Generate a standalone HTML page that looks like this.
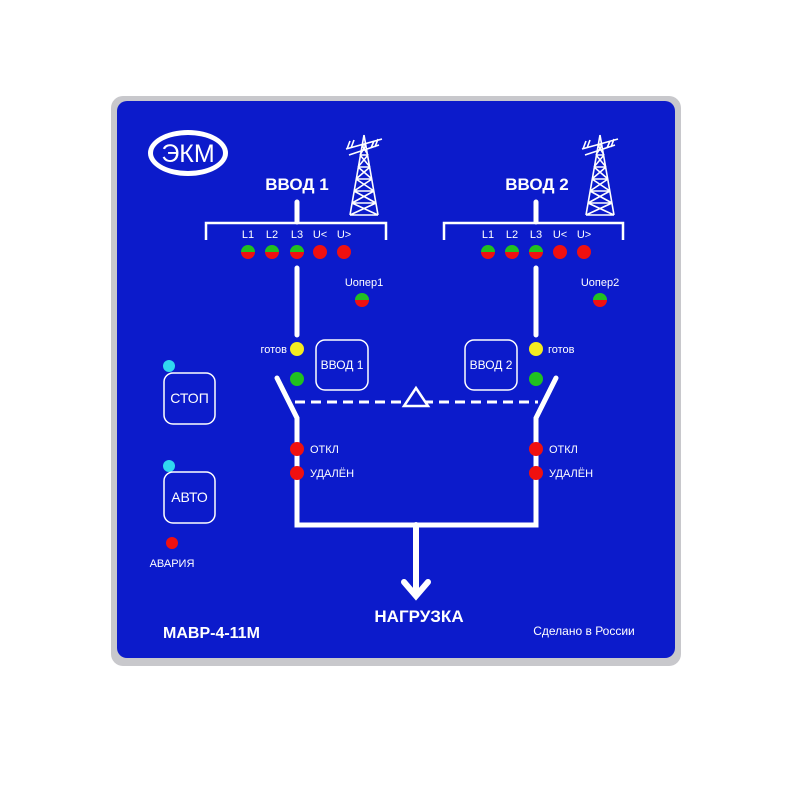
<!DOCTYPE html>
<html><head><meta charset="utf-8"><style>
html,body{margin:0;padding:0;background:#fff;width:800px;height:800px;overflow:hidden}
svg{display:block}
text{font-family:"Liberation Sans",sans-serif;fill:#fff}
</style></head><body>
<svg width="800" height="800" viewBox="0 0 800 800">
<defs>
<linearGradient id="bi" x1="0" y1="0" x2="0" y2="1">
<stop offset="0" stop-color="#22c020"/><stop offset="0.5" stop-color="#22c020"/><stop offset="0.5" stop-color="#f01010"/><stop offset="1" stop-color="#f01010"/>
</linearGradient>
<g id="tower" stroke="#fff" stroke-width="1.6" fill="none">
<path d="M0,0 L-14,80 M0,0 L14,80 M-2,10 L2,10 M-4,20 L4,20 M-6,32 L6,32 M-8,44 L8,44 M-10,56 L10,56 M-12,68 L12,68 M-14,80 L14,80 M-2,10 L4,20 M2,10 L-4,20 M-4,20 L6,32 M4,20 L-6,32 M-6,32 L8,44 M6,32 L-8,44 M-8,44 L10,56 M8,44 L-10,56 M-10,56 L12,68 M10,56 L-12,68 M-12,68 L14,80 M12,68 L-14,80"/>
<path d="M-18,14 L18,4 M-15,20 L15,10 M-14,6 L-17,14 M-10,5 L-13,13 M10,6 L7,13 M14,4 L11,12"/>
</g>
</defs>
<rect x="111" y="96" width="570" height="570" rx="12" fill="#c8c8cc"/>
<rect x="117" y="101" width="558" height="557" rx="10" fill="#0c1bcb"/>
<!-- logo -->
<ellipse cx="188" cy="153" rx="40" ry="23" fill="#fff"/>
<ellipse cx="188" cy="153" rx="35" ry="18" fill="#0c1bcb"/>
<text x="188" y="162" font-size="25" text-anchor="middle">ЭКМ</text>
<use href="#tower" x="364" y="135"/>
<use href="#tower" x="600" y="135"/>
<text x="297" y="190" font-size="17" font-weight="bold" text-anchor="middle">ВВОД 1</text>
<text x="537" y="190" font-size="17" font-weight="bold" text-anchor="middle">ВВОД 2</text>
<g stroke="#fff" fill="none" stroke-linecap="round">
<path d="M297,202 V222 M536,202 V222" stroke-width="5"/>
<path d="M206,240 V223 H386 V240 M444,240 V223 H623 V240" stroke-width="2.5" stroke-linecap="butt"/>
<path d="M297,268 V335 M536,268 V335" stroke-width="5"/>
<path d="M277,378 L297,418 V525 H536 V418 L556,378" stroke-width="5" stroke-linejoin="miter"/>
<path d="M416,525 V595 M404,582 L416,596 L428,582" stroke-width="6"/>
<path d="M295,402 H538" stroke-width="3" stroke-dasharray="10,6" stroke-linecap="butt"/>
</g>
<polygon points="416,388 404,406 428,406" fill="#0c1bcb" stroke="#fff" stroke-width="2.5"/>
<g font-size="11" text-anchor="middle">
<text x="248" y="238">L1</text><text x="272" y="238">L2</text><text x="297" y="238">L3</text><text x="320" y="238">U&lt;</text><text x="344" y="238">U&gt;</text>
<text x="488" y="238">L1</text><text x="512" y="238">L2</text><text x="536" y="238">L3</text><text x="560" y="238">U&lt;</text><text x="584" y="238">U&gt;</text>
<text x="364" y="286">Uопер1</text><text x="600" y="286">Uопер2</text>
</g>
<g>
<circle cx="248" cy="252" r="7" fill="url(#bi)"/><circle cx="272" cy="252" r="7" fill="url(#bi)"/><circle cx="297" cy="252" r="7" fill="url(#bi)"/>
<circle cx="320" cy="252" r="7" fill="#f01010"/><circle cx="344" cy="252" r="7" fill="#f01010"/>
<circle cx="488" cy="252" r="7" fill="url(#bi)"/><circle cx="512" cy="252" r="7" fill="url(#bi)"/><circle cx="536" cy="252" r="7" fill="url(#bi)"/>
<circle cx="560" cy="252" r="7" fill="#f01010"/><circle cx="584" cy="252" r="7" fill="#f01010"/>
<circle cx="362" cy="300" r="7" fill="url(#bi)"/><circle cx="600" cy="300" r="7" fill="url(#bi)"/>
<circle cx="297" cy="349" r="7" fill="#f4ec20"/><circle cx="536" cy="349" r="7" fill="#f4ec20"/>
<circle cx="297" cy="379" r="7" fill="#20c020"/><circle cx="536" cy="379" r="7" fill="#20c020"/>
<circle cx="297" cy="449" r="7" fill="#f01010"/><circle cx="297" cy="473" r="7" fill="#f01010"/>
<circle cx="536" cy="449" r="7" fill="#f01010"/><circle cx="536" cy="473" r="7" fill="#f01010"/>
<circle cx="172" cy="543" r="6" fill="#f01010"/>
<circle cx="169" cy="366" r="6" fill="#30d8f0"/><circle cx="169" cy="466" r="6" fill="#30d8f0"/>
</g>
<g font-size="11">
<text x="287" y="353" text-anchor="end">готов</text><text x="548" y="353">готов</text>
<text x="310" y="453">ОТКЛ</text><text x="310" y="477">УДАЛЁН</text>
<text x="549" y="453">ОТКЛ</text><text x="549" y="477">УДАЛЁН</text>
<text x="172" y="567" text-anchor="middle">АВАРИЯ</text>
</g>
<g fill="none" stroke="#fff" stroke-width="1.5">
<rect x="316" y="340" width="52" height="50" rx="9"/>
<rect x="465" y="340" width="52" height="50" rx="9"/>
<rect x="164" y="373" width="51" height="51" rx="9"/>
<rect x="164" y="472" width="51" height="51" rx="9"/>
</g>
<g font-size="12" text-anchor="middle">
<text x="342" y="369">ВВОД 1</text><text x="491" y="369">ВВОД 2</text>
<text x="189.5" y="403" font-size="14">СТОП</text><text x="189.5" y="502" font-size="14">АВТО</text>
</g>
<text x="163" y="638" font-size="16" font-weight="bold">МАВР-4-11М</text>
<text x="419" y="622" font-size="17" font-weight="bold" text-anchor="middle">НАГРУЗКА</text>
<text x="584" y="635" font-size="12" text-anchor="middle">Сделано в России</text>
</svg>
</body></html>
